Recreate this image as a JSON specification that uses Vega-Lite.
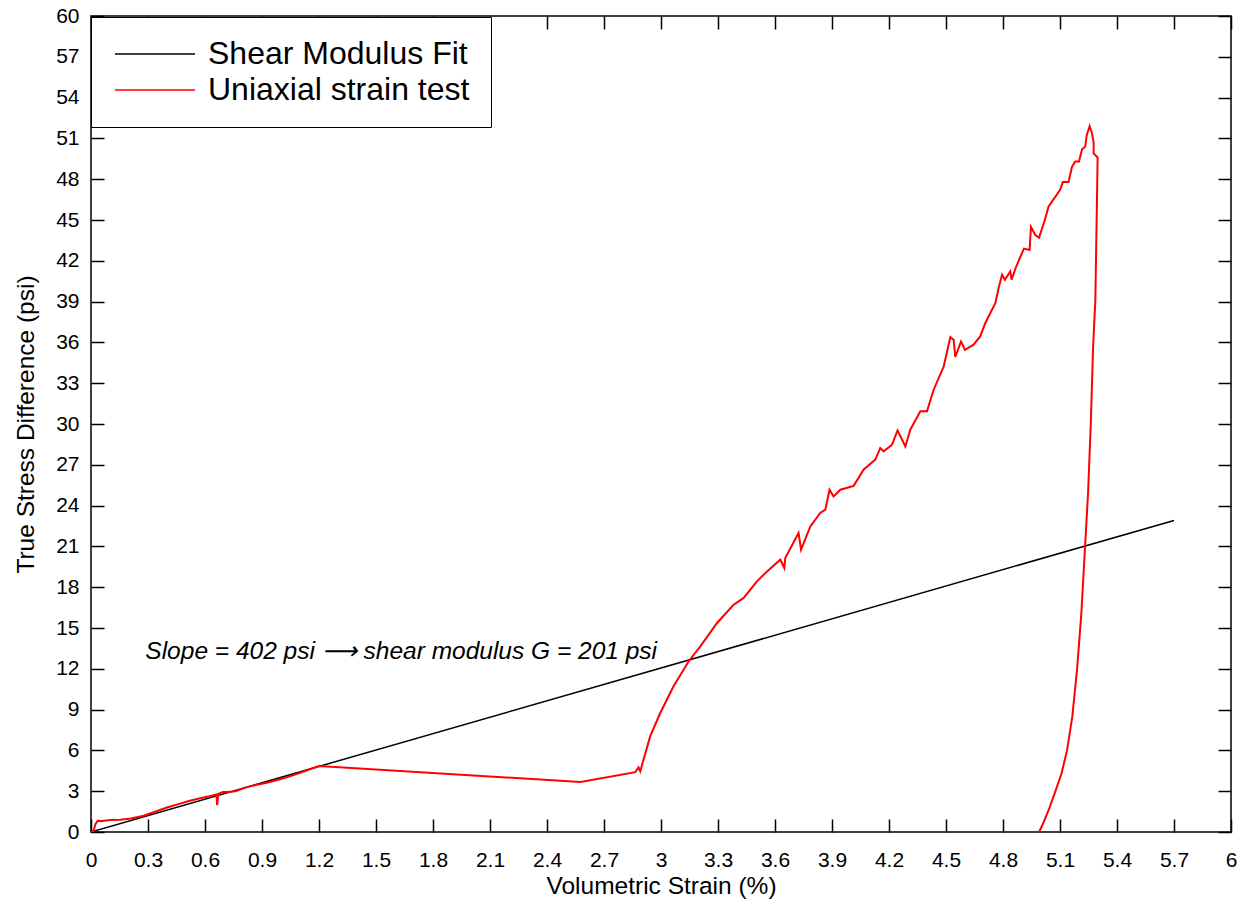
{
  "$schema": "https://vega.github.io/schema/vega-lite/v6.json",
  "width": 1140,
  "height": 816,
  "autosize": {"type": "none"},
  "padding": {"left": 91, "top": 16, "right": 17, "bottom": 75},
  "background": "white",
  "config": {
    "font": "Liberation Sans",
    "view": {"stroke": "black", "strokeWidth": 1.5},
    "axis": {"grid": false, "domain": false, "tickColor": "black", "tickWidth": 1.5, "tickSize": -13, "labelColor": "black", "titleColor": "black", "labelFont": "Liberation Sans", "titleFont": "Liberation Sans", "labelFontSize": 21, "titleFontSize": 24.5, "titleFontWeight": "normal", "labelFlush": false, "labelOverlap": false, "labelBound": false}
  },
  "datasets": {
    "curves": [
      {"s": "Shear Modulus Fit", "i": 0, "x": 0, "y": 0},
      {"s": "Shear Modulus Fit", "i": 1, "x": 5.7, "y": 22.91},
      {"s": "Uniaxial strain test", "i": 0, "x": 0, "y": 0},
      {"s": "Uniaxial strain test", "i": 1, "x": 0.013, "y": 0.05},
      {"s": "Uniaxial strain test", "i": 2, "x": 0.024, "y": 0.6},
      {"s": "Uniaxial strain test", "i": 3, "x": 0.035, "y": 0.82},
      {"s": "Uniaxial strain test", "i": 4, "x": 0.05, "y": 0.8},
      {"s": "Uniaxial strain test", "i": 5, "x": 0.1, "y": 0.88},
      {"s": "Uniaxial strain test", "i": 6, "x": 0.154, "y": 0.9},
      {"s": "Uniaxial strain test", "i": 7, "x": 0.21, "y": 1.0},
      {"s": "Uniaxial strain test", "i": 8, "x": 0.277, "y": 1.2},
      {"s": "Uniaxial strain test", "i": 9, "x": 0.33, "y": 1.45},
      {"s": "Uniaxial strain test", "i": 10, "x": 0.4, "y": 1.8},
      {"s": "Uniaxial strain test", "i": 11, "x": 0.46, "y": 2.05},
      {"s": "Uniaxial strain test", "i": 12, "x": 0.52, "y": 2.3},
      {"s": "Uniaxial strain test", "i": 13, "x": 0.58, "y": 2.5},
      {"s": "Uniaxial strain test", "i": 14, "x": 0.63, "y": 2.65},
      {"s": "Uniaxial strain test", "i": 15, "x": 0.66, "y": 2.75},
      {"s": "Uniaxial strain test", "i": 16, "x": 0.664, "y": 1.98},
      {"s": "Uniaxial strain test", "i": 17, "x": 0.67, "y": 2.8},
      {"s": "Uniaxial strain test", "i": 18, "x": 0.694, "y": 2.95},
      {"s": "Uniaxial strain test", "i": 19, "x": 0.72, "y": 2.95},
      {"s": "Uniaxial strain test", "i": 20, "x": 0.76, "y": 3.0},
      {"s": "Uniaxial strain test", "i": 21, "x": 0.82, "y": 3.3},
      {"s": "Uniaxial strain test", "i": 22, "x": 0.88, "y": 3.5},
      {"s": "Uniaxial strain test", "i": 23, "x": 0.93, "y": 3.64},
      {"s": "Uniaxial strain test", "i": 24, "x": 1.0, "y": 3.9},
      {"s": "Uniaxial strain test", "i": 25, "x": 1.07, "y": 4.2},
      {"s": "Uniaxial strain test", "i": 26, "x": 1.13, "y": 4.5},
      {"s": "Uniaxial strain test", "i": 27, "x": 1.2, "y": 4.85},
      {"s": "Uniaxial strain test", "i": 28, "x": 2.576, "y": 3.68},
      {"s": "Uniaxial strain test", "i": 29, "x": 2.865, "y": 4.4},
      {"s": "Uniaxial strain test", "i": 30, "x": 2.882, "y": 4.75},
      {"s": "Uniaxial strain test", "i": 31, "x": 2.891, "y": 4.46},
      {"s": "Uniaxial strain test", "i": 32, "x": 2.908, "y": 5.32},
      {"s": "Uniaxial strain test", "i": 33, "x": 2.943, "y": 7.03},
      {"s": "Uniaxial strain test", "i": 34, "x": 2.996, "y": 8.75},
      {"s": "Uniaxial strain test", "i": 35, "x": 3.066, "y": 10.71},
      {"s": "Uniaxial strain test", "i": 36, "x": 3.145, "y": 12.54},
      {"s": "Uniaxial strain test", "i": 37, "x": 3.207, "y": 13.65},
      {"s": "Uniaxial strain test", "i": 38, "x": 3.295, "y": 15.37},
      {"s": "Uniaxial strain test", "i": 39, "x": 3.382, "y": 16.71},
      {"s": "Uniaxial strain test", "i": 40, "x": 3.435, "y": 17.21},
      {"s": "Uniaxial strain test", "i": 41, "x": 3.505, "y": 18.43},
      {"s": "Uniaxial strain test", "i": 42, "x": 3.558, "y": 19.16},
      {"s": "Uniaxial strain test", "i": 43, "x": 3.628, "y": 20.02},
      {"s": "Uniaxial strain test", "i": 44, "x": 3.649, "y": 19.41},
      {"s": "Uniaxial strain test", "i": 45, "x": 3.654, "y": 20.15},
      {"s": "Uniaxial strain test", "i": 46, "x": 3.724, "y": 21.99},
      {"s": "Uniaxial strain test", "i": 47, "x": 3.737, "y": 20.76},
      {"s": "Uniaxial strain test", "i": 48, "x": 3.786, "y": 22.47},
      {"s": "Uniaxial strain test", "i": 49, "x": 3.838, "y": 23.46},
      {"s": "Uniaxial strain test", "i": 50, "x": 3.865, "y": 23.7},
      {"s": "Uniaxial strain test", "i": 51, "x": 3.887, "y": 25.17},
      {"s": "Uniaxial strain test", "i": 52, "x": 3.908, "y": 24.68},
      {"s": "Uniaxial strain test", "i": 53, "x": 3.944, "y": 25.17},
      {"s": "Uniaxial strain test", "i": 54, "x": 4.014, "y": 25.45},
      {"s": "Uniaxial strain test", "i": 55, "x": 4.066, "y": 26.64},
      {"s": "Uniaxial strain test", "i": 56, "x": 4.128, "y": 27.38},
      {"s": "Uniaxial strain test", "i": 57, "x": 4.154, "y": 28.24},
      {"s": "Uniaxial strain test", "i": 58, "x": 4.172, "y": 27.99},
      {"s": "Uniaxial strain test", "i": 59, "x": 4.216, "y": 28.48},
      {"s": "Uniaxial strain test", "i": 60, "x": 4.245, "y": 29.53},
      {"s": "Uniaxial strain test", "i": 61, "x": 4.286, "y": 28.35},
      {"s": "Uniaxial strain test", "i": 62, "x": 4.312, "y": 29.58},
      {"s": "Uniaxial strain test", "i": 63, "x": 4.365, "y": 30.93},
      {"s": "Uniaxial strain test", "i": 64, "x": 4.4, "y": 30.93},
      {"s": "Uniaxial strain test", "i": 65, "x": 4.435, "y": 32.52},
      {"s": "Uniaxial strain test", "i": 66, "x": 4.488, "y": 34.24},
      {"s": "Uniaxial strain test", "i": 67, "x": 4.523, "y": 36.4},
      {"s": "Uniaxial strain test", "i": 68, "x": 4.54, "y": 36.2},
      {"s": "Uniaxial strain test", "i": 69, "x": 4.549, "y": 34.93},
      {"s": "Uniaxial strain test", "i": 70, "x": 4.579, "y": 36.07},
      {"s": "Uniaxial strain test", "i": 71, "x": 4.6, "y": 35.46},
      {"s": "Uniaxial strain test", "i": 72, "x": 4.645, "y": 35.83},
      {"s": "Uniaxial strain test", "i": 73, "x": 4.68, "y": 36.44},
      {"s": "Uniaxial strain test", "i": 74, "x": 4.707, "y": 37.43},
      {"s": "Uniaxial strain test", "i": 75, "x": 4.76, "y": 38.9},
      {"s": "Uniaxial strain test", "i": 76, "x": 4.777, "y": 40.0},
      {"s": "Uniaxial strain test", "i": 77, "x": 4.795, "y": 40.98},
      {"s": "Uniaxial strain test", "i": 78, "x": 4.81, "y": 40.6},
      {"s": "Uniaxial strain test", "i": 79, "x": 4.838, "y": 41.22},
      {"s": "Uniaxial strain test", "i": 80, "x": 4.845, "y": 40.61},
      {"s": "Uniaxial strain test", "i": 81, "x": 4.87, "y": 41.6},
      {"s": "Uniaxial strain test", "i": 82, "x": 4.91, "y": 42.9},
      {"s": "Uniaxial strain test", "i": 83, "x": 4.94, "y": 42.8},
      {"s": "Uniaxial strain test", "i": 84, "x": 4.947, "y": 44.5},
      {"s": "Uniaxial strain test", "i": 85, "x": 4.97, "y": 43.9},
      {"s": "Uniaxial strain test", "i": 86, "x": 4.99, "y": 43.7},
      {"s": "Uniaxial strain test", "i": 87, "x": 5.02, "y": 45.0},
      {"s": "Uniaxial strain test", "i": 88, "x": 5.04, "y": 46.0},
      {"s": "Uniaxial strain test", "i": 89, "x": 5.1, "y": 47.2},
      {"s": "Uniaxial strain test", "i": 90, "x": 5.115, "y": 47.8},
      {"s": "Uniaxial strain test", "i": 91, "x": 5.145, "y": 47.8},
      {"s": "Uniaxial strain test", "i": 92, "x": 5.163, "y": 48.9},
      {"s": "Uniaxial strain test", "i": 93, "x": 5.18, "y": 49.3},
      {"s": "Uniaxial strain test", "i": 94, "x": 5.2, "y": 49.3},
      {"s": "Uniaxial strain test", "i": 95, "x": 5.216, "y": 50.2},
      {"s": "Uniaxial strain test", "i": 96, "x": 5.233, "y": 50.4},
      {"s": "Uniaxial strain test", "i": 97, "x": 5.24, "y": 51.2},
      {"s": "Uniaxial strain test", "i": 98, "x": 5.256, "y": 51.9},
      {"s": "Uniaxial strain test", "i": 99, "x": 5.268, "y": 51.4},
      {"s": "Uniaxial strain test", "i": 100, "x": 5.277, "y": 50.7},
      {"s": "Uniaxial strain test", "i": 101, "x": 5.277, "y": 49.9},
      {"s": "Uniaxial strain test", "i": 102, "x": 5.298, "y": 49.6},
      {"s": "Uniaxial strain test", "i": 103, "x": 5.296, "y": 47.7},
      {"s": "Uniaxial strain test", "i": 104, "x": 5.286, "y": 39.1},
      {"s": "Uniaxial strain test", "i": 105, "x": 5.274, "y": 35.6},
      {"s": "Uniaxial strain test", "i": 106, "x": 5.262, "y": 30.0},
      {"s": "Uniaxial strain test", "i": 107, "x": 5.248, "y": 25.0},
      {"s": "Uniaxial strain test", "i": 108, "x": 5.232, "y": 21.0},
      {"s": "Uniaxial strain test", "i": 109, "x": 5.212, "y": 16.0},
      {"s": "Uniaxial strain test", "i": 110, "x": 5.19, "y": 12.0},
      {"s": "Uniaxial strain test", "i": 111, "x": 5.165, "y": 8.5},
      {"s": "Uniaxial strain test", "i": 112, "x": 5.137, "y": 6.0},
      {"s": "Uniaxial strain test", "i": 113, "x": 5.108, "y": 4.3},
      {"s": "Uniaxial strain test", "i": 114, "x": 5.076, "y": 3.0},
      {"s": "Uniaxial strain test", "i": 115, "x": 5.04, "y": 1.6},
      {"s": "Uniaxial strain test", "i": 116, "x": 5.01, "y": 0.6},
      {"s": "Uniaxial strain test", "i": 117, "x": 4.99, "y": 0}
    ],
    "note": [
      {"x": 0.286, "y": 13.26, "label": "Slope = 402 psi ⟶ shear modulus G = 201 psi"}
    ]
  },
  "layer": [
    {
      "data": {"name": "curves"},
      "transform": [{"filter": "datum.s === 'Shear Modulus Fit'"}],
      "mark": {"type": "line", "strokeWidth": 1.5, "clip": true},
      "encoding": {
        "x": {"field": "x", "type": "quantitative", "scale": {"domain": [0, 6], "nice": false, "zero": false},
          "axis": {"orient": "bottom", "title": "Volumetric Strain (%)", "values": [0, 0.3, 0.6, 0.9, 1.2, 1.5, 1.8, 2.1, 2.4, 2.7, 3, 3.3, 3.6, 3.9, 4.2, 4.5, 4.8, 5.1, 5.4, 5.7, 6], "format": ".1~f", "labelPadding": 30, "titlePadding": 4}},
        "y": {"field": "y", "type": "quantitative", "scale": {"domain": [0, 60], "nice": false, "zero": false},
          "axis": {"orient": "left", "title": "True Stress Difference (psi)", "values": [0, 3, 6, 9, 12, 15, 18, 21, 24, 27, 30, 33, 36, 39, 42, 45, 48, 51, 54, 57, 60], "labelPadding": 25, "titlePadding": 17}},
        "color": {"field": "s", "type": "nominal",
          "scale": {"domain": ["Shear Modulus Fit", "Uniaxial strain test"], "range": ["black", "#ff0000"]},
          "legend": {"orient": "none", "legendX": 0, "legendY": 1, "title": null, "fillColor": "white", "strokeColor": "black", "cornerRadius": 0, "padding": 21, "symbolType": "M-1.3,0H6.7", "symbolSize": 400, "symbolStrokeWidth": 1.5, "labelFontSize": 32, "labelFont": "Liberation Sans", "labelColor": "black", "labelLimit": 600, "labelOffset": 64, "symbolOffset": 0, "rowPadding": 4}},
        "order": {"field": "i", "type": "quantitative"}
      }
    },
    {
      "data": {"name": "curves"},
      "transform": [{"filter": "datum.s === 'Uniaxial strain test'"}],
      "mark": {"type": "line", "strokeWidth": 2, "clip": true},
      "encoding": {
        "x": {"field": "x", "type": "quantitative", "axis": null},
        "y": {"field": "y", "type": "quantitative", "axis": null},
        "color": {"field": "s", "type": "nominal"},
        "order": {"field": "i", "type": "quantitative"}
      }
    },
    {
      "data": {"name": "note"},
      "mark": {"type": "text", "align": "left", "baseline": "middle", "fontSize": 24.5, "fontStyle": "italic", "font": "Liberation Sans", "color": "black"},
      "encoding": {
        "x": {"field": "x", "type": "quantitative", "axis": {"orient": "top", "title": null, "labels": false, "values": [0, 0.3, 0.6, 0.9, 1.2, 1.5, 1.8, 2.1, 2.4, 2.7, 3, 3.3, 3.6, 3.9, 4.2, 4.5, 4.8, 5.1, 5.4, 5.7, 6]}},
        "y": {"field": "y", "type": "quantitative", "axis": {"orient": "right", "title": null, "labels": false, "values": [0, 3, 6, 9, 12, 15, 18, 21, 24, 27, 30, 33, 36, 39, 42, 45, 48, 51, 54, 57, 60]}},
        "text": {"field": "label"}
      }
    }
  ],
  "resolve": {"axis": {"x": "independent", "y": "independent"}}
}
